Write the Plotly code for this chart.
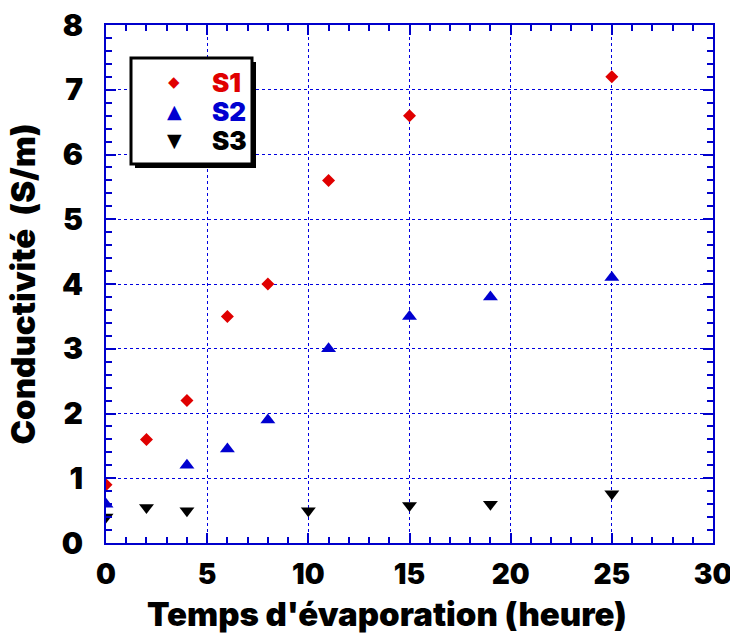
import plotly.graph_objects as go

# Temps d'évaporation (heure) and conductivité (S/m) for each sample
s1_t = [0, 2, 4, 6, 8, 11, 15, 25]
s1_c = [0.9, 1.6, 2.2, 3.5, 4.0, 5.6, 6.6, 7.2]

s2_t = [0, 4, 6, 8, 11, 15, 19, 25]
s2_c = [0.6, 1.2, 1.45, 1.9, 3.0, 3.5, 3.8, 4.1]

s3_t = [0, 2, 4, 10, 15, 19, 25]
s3_c = [0.4, 0.55, 0.5, 0.5, 0.58, 0.6, 0.76]

x_ticks = [0, 5, 10, 15, 20, 25, 30]
y_ticks = [0, 1, 2, 3, 4, 5, 6, 7, 8]

RED = "#e00000"
BLUE = "#0000d0"
BLACK = "#000000"
AXIS = "#0000cc"
FONT = "Inter"

fig = go.Figure()
fig.add_trace(go.Scatter(x=s1_t, y=s1_c, mode="markers", name="S1",
                         marker=dict(symbol="diamond", size=10, color=RED)))
fig.add_trace(go.Scatter(x=s2_t, y=s2_c, mode="markers", name="S2",
                         marker=dict(symbol="triangle-up", size=13, color=BLUE)))
fig.add_trace(go.Scatter(x=s3_t, y=s3_c, mode="markers", name="S3",
                         marker=dict(symbol="triangle-down", size=13, color=BLACK)))

axis_common = dict(
    showline=True, linecolor=AXIS, linewidth=2, mirror="allticks",
    ticks="inside", tickcolor=AXIS, tickwidth=1.5, ticklen=10,
    showgrid=True, gridcolor="#0000e0", gridwidth=1.2, griddash="3px,3px",
    zeroline=False, automargin=False, ticklabeloverflow="allow",
)

fig.update_xaxes(
    range=[0, 30], tickvals=x_ticks, ticktext=[str(v) for v in x_ticks],
    minor=dict(dtick=1, ticks="inside", ticklen=6, tickcolor=AXIS, showgrid=False),
    ticklabelstandoff=5,
    tickfont=dict(family=FONT, size=28, color="black", weight=900),
    **axis_common,
)
fig.update_yaxes(
    range=[0, 8], tickvals=y_ticks, ticktext=[str(v) for v in y_ticks],
    minor=dict(dtick=0.2, ticks="inside", ticklen=6, tickcolor=AXIS, showgrid=False),
    ticklabelstandoff=15,
    tickfont=dict(family=FONT, size=30, color="black", weight=900),
    title=dict(text="Conductivité  (S/m)", standoff=16,
               font=dict(family=FONT, size=33, color="black", weight=900)),
    **axis_common,
)

# Pixel helpers for paper-coordinate placement
pw, ph = 730 - 106 - 17, 633 - 25 - 90
def px(xp):
    return (xp - 106) / pw
def py(yp):
    return (543 - yp) / ph

# x-axis title, set slightly left of the plot centre
fig.add_annotation(xref="paper", yref="paper", x=px(387), y=py(614),
                   text="Temps d'évaporation (heure)", showarrow=False,
                   xanchor="center", yanchor="middle",
                   font=dict(family=FONT, size=33, color="black", weight=900))

# Legend box with drop shadow
fig.add_shape(type="rect", xref="paper", yref="paper",
              x0=px(135), x1=px(256), y0=py(168), y1=py(62),
              fillcolor="black", line=dict(width=0), layer="above")
fig.add_shape(type="rect", xref="paper", yref="paper",
              x0=px(131), x1=px(252), y0=py(164), y1=py(58),
              fillcolor="white", line=dict(color="black", width=3), layer="above")

legend_rows = [("◆", "S1", RED, 82, 15), ("▲", "S2", BLUE, 111, 19), ("▼", "S3", BLACK, 140, 19)]
for sym, lab, col, yp, ssz in legend_rows:
    fig.add_annotation(xref="paper", yref="paper", x=px(174), y=py(yp),
                       text=sym, showarrow=False, xanchor="center", yanchor="middle",
                       font=dict(family="DejaVu Sans", size=ssz, color=col))
    fig.add_annotation(xref="paper", yref="paper", x=px(210), y=py(yp),
                       text=lab, showarrow=False, xanchor="left", yanchor="middle",
                       font=dict(family=FONT, size=26, color=col, weight=900))

fig.update_layout(
    width=730, height=633,
    margin=dict(l=106, r=17, t=25, b=90),
    plot_bgcolor="white", paper_bgcolor="white",
    showlegend=False,
)

fig.write_html("out.html")
